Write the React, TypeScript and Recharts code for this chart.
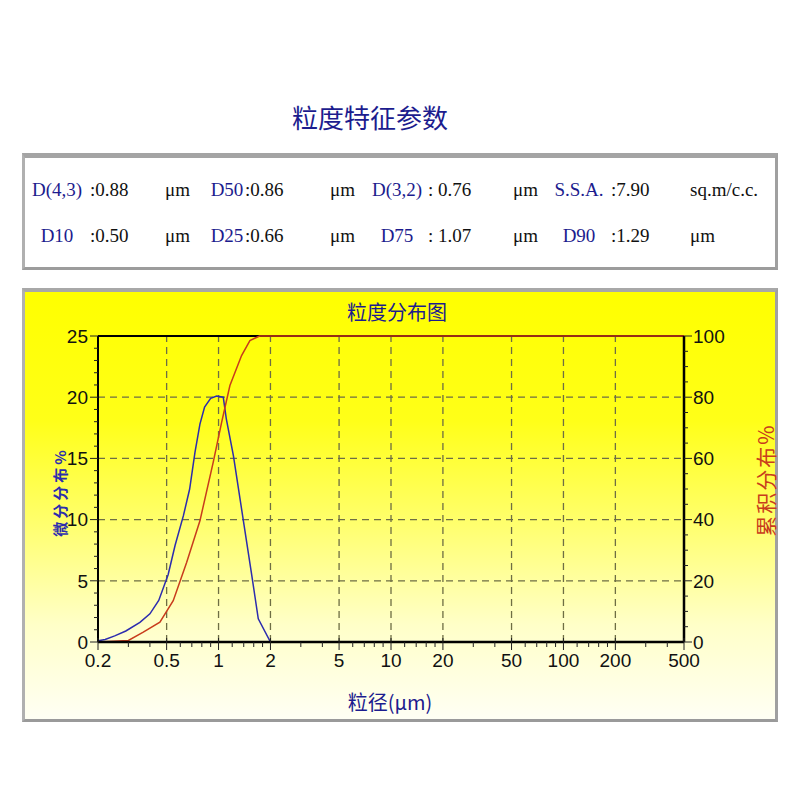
import React from 'react';
import { LineChart, Line, XAxis, YAxis, ReferenceLine } from 'recharts';

// differential distribution (left axis, %)
const freqSizes = [0.2, 0.22, 0.25, 0.29, 0.35, 0.4, 0.45, 0.51, 0.56, 0.625, 0.68, 0.73, 0.78, 0.83, 0.9, 0.975, 1.065, 1.11, 1.22, 1.39, 1.56, 1.7, 2.0, 500];
const freqValues = [0.1, 0.2, 0.5, 0.9, 1.6, 2.3, 3.4, 5.5, 7.9, 10.3, 12.5, 15.5, 17.8, 19.2, 19.9, 20.1, 20.0, 18.2, 15.2, 10.0, 5.4, 1.9, 0, 0];

// cumulative distribution (right axis, %)
const cumSizes = [0.2, 0.3, 0.366, 0.457, 0.546, 0.653, 0.78, 0.931, 1.042, 1.164, 1.36, 1.52, 1.73, 500];
const cumValues = [0, 0.5, 3.2, 6.5, 13.5, 26, 39.6, 58.7, 71.8, 83.8, 93.6, 98.5, 100, 100];

const xMajor = [0.2, 0.5, 1, 2, 5, 10, 20, 50, 100, 200, 500];
const xMinor = [0.3, 0.4, 0.6, 0.7, 0.8, 0.9, 1.2, 1.4, 1.6, 1.8, 3, 4, 6, 7, 8, 9, 12, 14, 16, 18, 30, 40, 60, 70, 80, 90, 120, 140, 160, 180, 300, 400];
const xGrid = [0.5, 1, 2, 5, 10, 20, 50, 100, 200];
const leftGrid = [5, 10, 15, 20];

const paramNames = ['D(4,3)', 'D50', 'D(3,2)', 'S.S.A.', 'D10', 'D25', 'D75', 'D90'];
const paramValues = [':0.88', ':0.86', ': 0.76', ':7.90', ':0.50', ':0.66', ': 1.07', ':1.29'];
const paramUnits = ['μm', 'μm', 'μm', 'sq.m/c.c.', 'μm', 'μm', 'μm', 'μm'];

const freqData = freqSizes.map((x, i) => ({ x, v: freqValues[i] }));
const cumData = cumSizes.map((x, i) => ({ x, v: cumValues[i] }));

const range = (a: number, b: number, step: number) => {
  const out: number[] = [];
  for (let v = a; v <= b; v += step) out.push(v);
  return out;
};

const NAVY = '#1c1c8e';
const BLUE = '#2c2cae';
const RED = '#c83c1c';
const GRID = '#6e6e44';
const numFont = '"Liberation Sans", Arial, sans-serif';
const cjkFont = '"Noto Sans CJK SC", sans-serif';
const serif = '"Liberation Serif", "Times New Roman", serif';

const LeftTick = (props: any) => {
  const { x, y, payload } = props;
  const major = payload.value % 5 === 0;
  return (
    <g>
      <line x1={x - (major ? 8 : 4)} x2={x} y1={y} y2={y} stroke="#222" strokeWidth={1} />
      {major && (
        <text x={x - 10} y={y} dy="0.36em" textAnchor="end" fontSize={19} fontFamily={numFont} fill="#111">
          {payload.value}
        </text>
      )}
    </g>
  );
};

const RightTick = (props: any) => {
  const { x, y, payload } = props;
  const major = payload.value % 20 === 0;
  return (
    <g>
      <line x1={x} x2={x + (major ? 8 : 4)} y1={y} y2={y} stroke="#222" strokeWidth={1} />
      {major && (
        <text x={x + 9} y={y} dy="0.36em" textAnchor="start" fontSize={19} fontFamily={numFont} fill="#111">
          {payload.value}
        </text>
      )}
    </g>
  );
};

const BottomTick = (props: any) => {
  const { x, y, payload } = props;
  const major = xMajor.includes(payload.value);
  return (
    <g>
      <line x1={x} x2={x} y1={major ? y - 4 : y} y2={y + (major ? 8 : 5)} stroke="#222" strokeWidth={1} />
      {major && (
        <text x={x} y={y + 25} textAnchor="middle" fontSize={19} fontFamily={numFont} fill="#111">
          {payload.value}
        </text>
      )}
    </g>
  );
};

const cell = (left: number, top: number, text: string, color: string, center = false) => (
  <div
    key={`${text}-${left}-${top}`}
    style={{
      position: 'absolute',
      left: center ? left - 60 : left,
      width: center ? 120 : undefined,
      textAlign: center ? 'center' : 'left',
      top,
      fontFamily: serif,
      fontSize: 19,
      color,
      whiteSpace: 'nowrap',
      lineHeight: '22px',
    }}
  >
    {text}
  </div>
);

const nameCenters = [57, 227, 397, 579];
const valueLefts = [90, 245, 428, 611];
const unitLefts = [165, 330, 513, 690];
const rowTops = [179, 225];

export default function App() {
  return (
    <div style={{ position: 'absolute', left: 0, top: 0, width: 800, height: 800, background: '#fff', overflow: 'hidden' }}>
      <div
        style={{
          position: 'absolute', left: 0, width: 740, top: 100, textAlign: 'center',
          fontFamily: cjkFont, fontSize: 26, color: NAVY, lineHeight: '34px',
        }}
      >
        粒度特征参数
      </div>

      <div
        style={{
          position: 'absolute', left: 22, top: 153, width: 756, height: 117, boxSizing: 'border-box',
          borderTop: '5px solid #a4a4a4', borderLeft: '3px solid #b0b0b0', borderRight: '3px solid #a0a0a0',
          borderBottom: '3px solid #9c9c9c', background: '#fff',
        }}
      />
      {paramNames.map((n, i) => {
        const col = i % 4;
        const row = Math.floor(i / 4);
        return (
          <React.Fragment key={n}>
            {cell(nameCenters[col], rowTops[row], n, NAVY, true)}
            {cell(valueLefts[col], rowTops[row], paramValues[i], '#111')}
            {cell(unitLefts[col], rowTops[row], paramUnits[i], '#111')}
          </React.Fragment>
        );
      })}

      <div
        style={{
          position: 'absolute', left: 22, top: 288, width: 756, height: 434, boxSizing: 'border-box',
          borderTop: '4px solid #a8a8a8', borderLeft: '3px solid #b0b0b0', borderRight: '3px solid #a0a0a0',
          borderBottom: '3px solid #9a9a9a',
          background: 'linear-gradient(to bottom, #ffff00 0%, #ffff18 30%, #ffff70 55%, #ffffc8 78%, #fffff4 100%)',
        }}
      />
      <div
        style={{
          position: 'absolute', left: 297, width: 200, top: 298, textAlign: 'center',
          fontFamily: cjkFont, fontSize: 20, color: NAVY, lineHeight: '28px',
        }}
      >
        粒度分布图
      </div>
      <div
        style={{
          position: 'absolute', left: 290, width: 200, top: 688, textAlign: 'center',
          fontFamily: cjkFont, fontSize: 20, color: NAVY, lineHeight: '28px',
        }}
      >
        粒径(μm)
      </div>
      <div
        style={{
          position: 'absolute', left: 59, top: 492, transform: 'translate(-50%, -50%) rotate(-90deg)',
          fontFamily: cjkFont, fontSize: 15, fontWeight: 700, color: BLUE, whiteSpace: 'nowrap', letterSpacing: 3,
        }}
      >
        微分分布%
      </div>
      <div
        style={{
          position: 'absolute', left: 765, top: 480, transform: 'translate(-50%, -50%) rotate(-90deg)',
          fontFamily: cjkFont, fontSize: 21, color: RED, whiteSpace: 'nowrap', letterSpacing: 2,
        }}
      >
        累积分布%
      </div>

      <div style={{ position: 'absolute', left: 0, top: 0 }}>
        <LineChart width={800} height={800} margin={{ top: 336, right: 56, bottom: 128, left: 38 }}>
          <XAxis
            dataKey="x"
            type="number"
            scale="log"
            domain={[0.2, 500]}
            ticks={[...xMajor, ...xMinor].sort((a, b) => a - b)}
            interval={0}
            allowDataOverflow
            height={30}
            tickLine={false}
            tickSize={0}
            tickMargin={0}
            tick={(p: any) => <BottomTick {...p} />}
            axisLine={{ stroke: '#000', strokeWidth: 2.5 }}
          />
          <YAxis
            yAxisId="left"
            orientation="left"
            domain={[0, 25]}
            ticks={range(0, 25, 1)}
            interval={0}
            width={60}
            tickLine={false}
            tickSize={0}
            tickMargin={0}
            tick={(p: any) => <LeftTick {...p} />}
            axisLine={{ stroke: '#000', strokeWidth: 2 }}
          />
          <YAxis
            yAxisId="right"
            orientation="right"
            domain={[0, 100]}
            ticks={range(0, 100, 5)}
            interval={0}
            width={60}
            tickLine={false}
            tickSize={0}
            tickMargin={0}
            tick={(p: any) => <RightTick {...p} />}
            axisLine={{ stroke: '#000', strokeWidth: 2.5 }}
          />
          {leftGrid.map((v) => (
            <ReferenceLine key={`h${v}`} yAxisId="left" y={v} stroke={GRID} strokeWidth={1.3} strokeDasharray="7 5" />
          ))}
          {xGrid.map((v) => (
            <ReferenceLine key={`v${v}`} yAxisId="left" x={v} stroke={GRID} strokeWidth={1.3} strokeDasharray="7 5" />
          ))}
          <ReferenceLine yAxisId="left" y={25} stroke="#000" strokeWidth={2} />
          <Line
            yAxisId="left"
            data={freqData}
            dataKey="v"
            type="linear"
            stroke={BLUE}
            strokeWidth={1.5}
            dot={false}
            isAnimationActive={false}
          />
          <Line
            yAxisId="right"
            data={cumData}
            dataKey="v"
            type="linear"
            stroke={RED}
            strokeWidth={1.5}
            dot={false}
            isAnimationActive={false}
          />
        </LineChart>
      </div>
    </div>
  );
}
